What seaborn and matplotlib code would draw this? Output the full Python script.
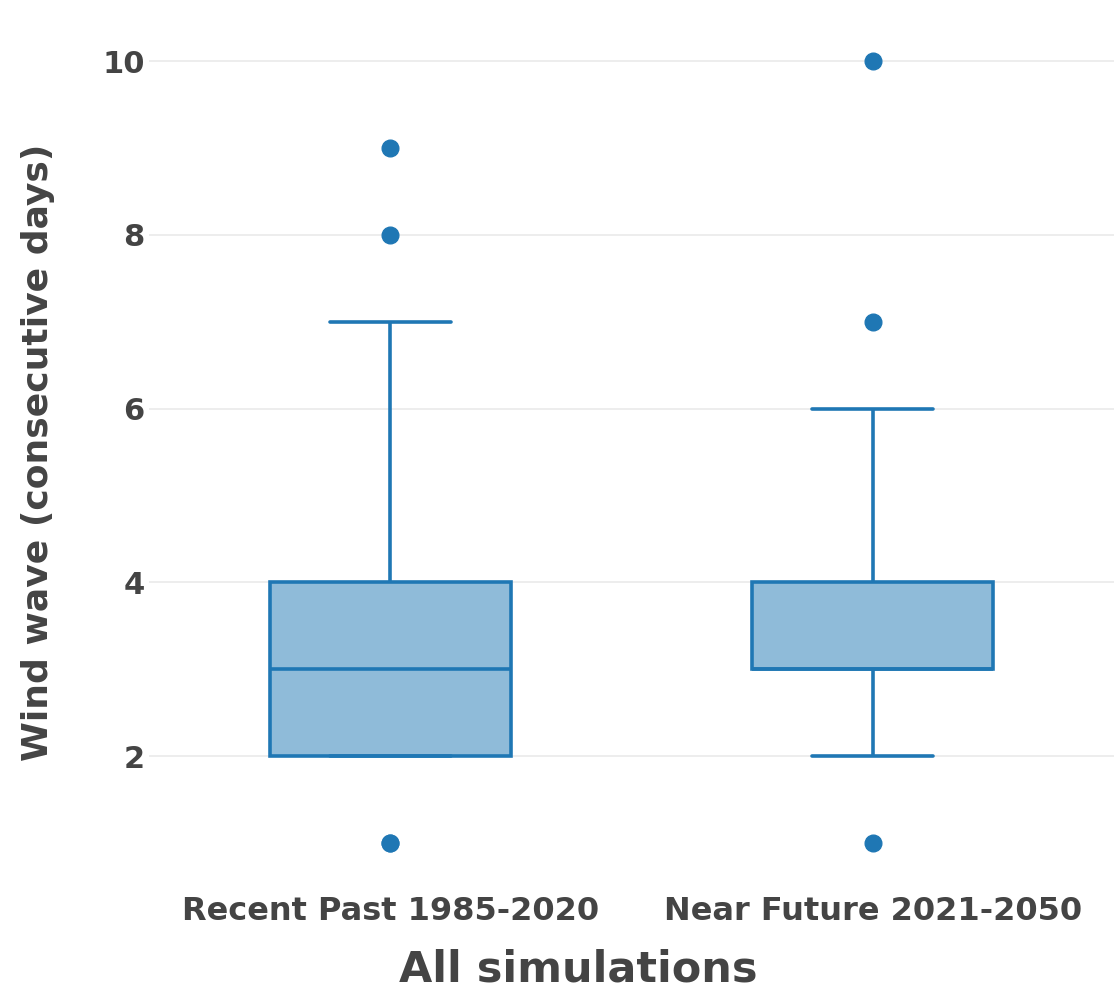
import numpy as np
import pandas as pd
import matplotlib
matplotlib.use("Agg")
import matplotlib.pyplot as plt
import seaborn as sns

# ---- data (estimated distributions reproducing the box statistics) ----
categories = ["Recent Past 1985-2020", "Near Future 2021-2050"]
recent_values = [1, 2, 3, 4, 5, 6, 7, 8, 9]
recent_counts = [2, 25, 30, 25, 8, 5, 3, 1, 1]
future_values = [1, 2, 3, 4, 5, 6, 7, 10]
future_counts = [1, 15, 40, 25, 10, 7, 1, 1]
y_ticks = [2, 4, 6, 8, 10]
x_title = "All simulations"
y_title = "Wind wave (consecutive days)"

df = pd.DataFrame({
    "period": [categories[0]] * sum(recent_counts) + [categories[1]] * sum(future_counts),
    "value": list(np.repeat(recent_values, recent_counts)) + list(np.repeat(future_values, future_counts)),
})

sns.set_theme(style="white")
plt.rcParams["font.family"] = ["DejaVu Sans"]

line_c = "#1f77b4"
fill_c = "#8fbbd9"
text_c = "#444444"

fig = plt.figure(figsize=(11.14, 9.94), dpi=100)
ax = fig.add_axes([149 / 1114, 1 - 885 / 994, (1114 - 149) / 1114, (885 - 19) / 994])

sns.boxplot(
    data=df, x="period", y="value", order=categories, ax=ax,
    color=fill_c, linecolor=line_c, saturation=1, width=0.5,
    linewidth=2.6, whis=(1.5, 98.5), fliersize=12,
    flierprops=dict(marker="o", markerfacecolor=line_c, markeredgecolor=line_c),
    zorder=3,
)

ax.set_xlim(-0.5, 1.5)
ax.set_ylim(0.515, 10.485)
ax.set_yticks(y_ticks)
ax.yaxis.grid(True, color="#eaeaea", linewidth=1.2, zorder=0)
ax.set_axisbelow(True)
for s in ax.spines.values():
    s.set_visible(False)
ax.tick_params(axis="both", length=0)
ax.tick_params(axis="y", pad=3, labelsize=22, labelcolor=text_c)
ax.tick_params(axis="x", pad=8, labelsize=23, labelcolor=text_c)
for lab in ax.get_xticklabels() + ax.get_yticklabels():
    lab.set_fontweight("bold")

ax.set_xlabel(x_title, fontsize=31, fontweight="bold", color=text_c)
ax.xaxis.set_label_coords((578 - 149) / 965, -(970 - 885) / 866)
ax.xaxis.label.set_va("center")
ax.set_ylabel(y_title, fontsize=26, fontweight="bold", color=text_c)
ax.yaxis.set_label_coords(-(149 - 38) / 965, 0.5)
ax.yaxis.label.set_va("center")

fig.savefig("out.png", dpi=100)
